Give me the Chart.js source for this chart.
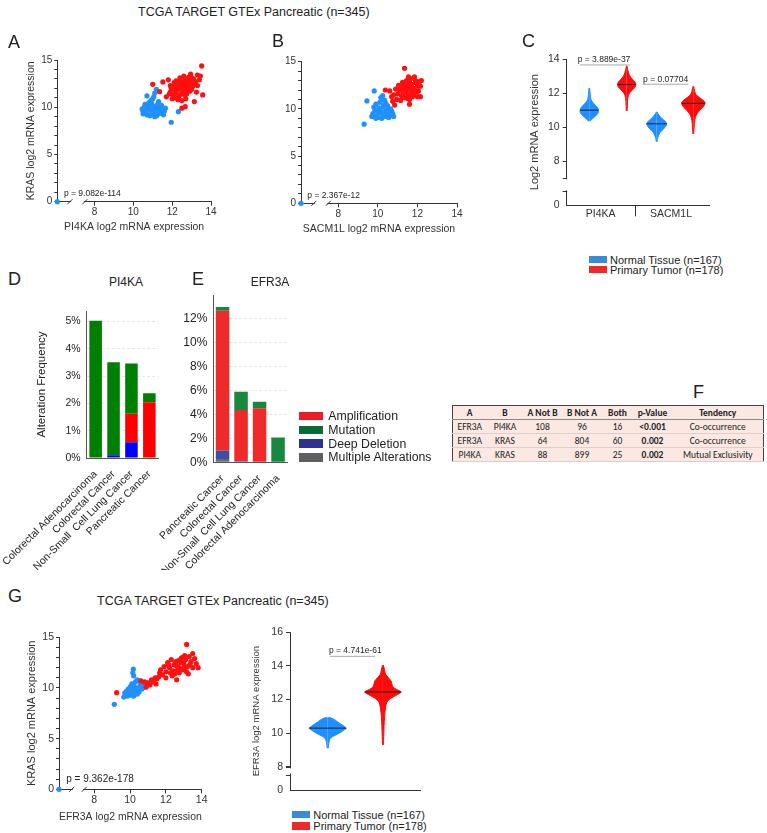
<!DOCTYPE html>
<html>
<head>
<meta charset="utf-8">
<script src="https://cdn.jsdelivr.net/npm/chart.js@4.4.1/dist/chart.umd.min.js"></script>
<style>
body { margin: 0; background: #fff; font-family: 'Liberation Sans', Arial, sans-serif; color: #222; }
#page { position: relative; width: 767px; height: 833px; overflow: hidden; }
canvas { position: absolute; }
.t { position: absolute; white-space: pre; line-height: 1; }
.sw { position: absolute; }
#tblF { position: absolute; left: 452px; top: 405px; width: 311px; border-collapse: collapse;
  font-family: Carlito, 'Liberation Sans Narrow', 'Liberation Sans', Arial, sans-serif; font-size: 9.5px;
  border: 1px solid #444; background: #fbe8e2; table-layout: fixed; }
#tblF th, #tblF td { height: 13px; padding: 0; text-align: center; border-bottom: 1px solid #e0cfc9; }
#tblF th { border-bottom: 1px solid #888; }
#tblF td.b { font-weight: bold; }
</style>
</head>
<body>
<div id="page"></div>
<script>
// ---- data ----
// A: PI4KA (x) vs KRAS (y)
const aTumor = [[12.0,11.8],[12.1,12.2],[12.2,11.5],[12.3,12.4],[12.4,11.9],[12.5,12.3],[12.6,12.0],[12.7,12.6],[12.8,12.2],[12.9,12.8],[13.0,12.5],[13.1,13.0],[13.2,12.7],[12.35,11.2],[12.55,11.6],[12.75,11.4],[12.2,12.8],[12.45,12.7],[12.65,13.0],[12.85,13.2],[11.9,12.3],[11.85,11.4],[12.0,10.9],[12.15,11.0],[12.3,10.8],[12.5,10.7],[12.7,10.9],[12.9,11.7],[13.0,11.9],[13.3,12.3],[13.25,11.6],[13.4,12.9],[13.3,13.4],[12.95,13.5],[12.6,13.3],[12.4,13.1],[12.1,12.6],[11.95,12.0],[12.25,12.1],[12.55,12.5],[12.8,11.8],[13.05,12.2],[12.45,11.4],[12.65,11.3],[12.2,11.7],[12.35,12.6],[12.9,12.0],[12.7,12.4],[11.9,11.6],[12.05,11.3],[12.6,11.8],[12.4,12.2],[12.75,12.9],[13.15,12.5],[13.52,14.37],[11.0,12.43],[11.52,12.68],[11.35,11.65],[13.57,11.3],[13.14,10.6],[12.67,10.06],[12.5,9.9],[11.7,11.1],[13.45,13.3],[11.8,12.9],[12.3,11.95],[12.5,12.1],[12.15,12.45],[12.85,12.55],[13.0,13.1]];
const aNormal = [[10.5,9.3],[10.6,9.6],[10.7,9.2],[10.8,9.8],[10.9,9.4],[11.0,9.9],[11.1,9.5],[11.2,9.7],[11.3,9.3],[11.4,9.8],[11.5,9.5],[11.6,9.6],[10.45,9.8],[10.55,10.0],[10.75,10.2],[10.85,9.1],[10.95,10.4],[11.05,9.2],[11.15,10.1],[11.25,10.3],[11.35,9.9],[11.45,10.2],[11.55,9.2],[10.65,9.4],[10.8,10.5],[10.9,10.7],[11.0,10.9],[11.1,9.0],[10.7,9.9],[11.2,9.1],[11.3,10.6],[11.4,9.4],[11.65,9.9],[10.6,10.3],[11.05,9.6],[10.95,9.7],[11.15,9.8],[10.85,10.0],[11.25,9.5],[10.5,9.6],[11.18,11.9],[11.1,11.5],[10.7,11.2],[12.32,9.53],[11.95,8.41],[11.05,11.1]];
// B: SACM1L (x) vs KRAS (y)
const bTumor = [[11.0,11.6],[11.1,12.0],[11.2,11.4],[11.3,12.2],[11.4,11.8],[11.5,12.4],[11.6,12.0],[11.7,12.6],[11.8,12.2],[11.9,12.8],[12.0,12.4],[12.1,12.9],[11.25,12.8],[11.45,13.0],[11.65,13.2],[11.85,13.4],[11.35,11.2],[11.55,11.5],[11.75,11.3],[11.95,11.8],[12.05,11.9],[10.9,12.1],[10.8,11.5],[10.95,11.0],[11.15,10.9],[11.05,12.5],[11.6,12.9],[11.4,12.6],[11.7,11.7],[11.85,12.0],[12.15,12.4],[11.5,11.1],[11.3,11.7],[11.6,11.0],[10.7,11.3],[10.75,10.8],[10.85,10.4],[11.2,12.3],[11.9,13.0],[11.8,11.5],[12.0,11.3],[11.35,14.3],[10.38,12.0],[12.2,13.0],[12.15,11.3],[11.6,10.5],[10.6,11.9],[11.55,13.4],[11.45,12.1],[11.65,12.4],[11.25,11.9]];
const bNormal = [[9.75,9.5],[9.85,9.9],[9.95,9.3],[10.05,10.1],[10.15,9.6],[10.25,10.2],[10.35,9.4],[10.45,9.9],[10.55,9.6],[10.65,10.0],[10.75,9.5],[9.8,10.2],[9.9,10.5],[10.0,9.1],[10.1,10.7],[10.2,11.0],[10.3,10.4],[10.4,9.2],[10.5,10.3],[10.6,9.3],[10.7,9.8],[10.8,9.2],[10.2,9.0],[10.1,9.8],[10.3,9.7],[10.0,9.7],[10.4,10.6],[10.25,11.4],[10.15,11.2],[9.7,9.2],[10.55,9.1],[9.9,9.0],[10.35,10.9],[9.82,11.9],[9.45,10.85],[9.31,8.38],[10.2,9.5],[10.45,10.4]];
// G: EFR3A (x) vs KRAS (y)
const gTumor = [[12.0,11.6],[12.2,12.0],[12.4,11.7],[12.6,12.2],[12.8,11.9],[13.0,12.4],[13.2,12.1],[13.4,12.6],[12.1,12.5],[12.3,12.8],[12.5,11.4],[12.7,12.7],[12.9,13.0],[13.1,12.8],[13.3,13.1],[11.8,11.3],[11.9,12.1],[12.0,11.0],[12.35,11.2],[12.55,12.6],[12.75,11.5],[12.95,11.8],[13.15,11.6],[13.35,12.3],[13.5,12.0],[13.6,12.9],[12.45,12.3],[12.65,11.8],[12.85,12.5],[13.05,13.2],[12.25,11.5],[11.7,11.8],[11.6,11.1],[11.5,10.9],[11.4,11.0],[11.3,10.6],[11.2,10.8],[11.1,10.3],[11.0,10.5],[10.9,10.1],[10.8,10.6],[11.45,10.4],[11.65,11.5],[12.85,12.9],[13.25,11.4],[13.16,14.3],[13.5,13.4],[9.25,9.54],[13.8,12.0],[13.7,12.4],[12.6,10.8],[10.6,10.7],[12.15,12.3],[12.7,12.05],[13.0,11.95]];
const gNormal = [[9.65,9.1],[9.75,9.4],[9.85,9.2],[9.95,9.6],[10.05,9.3],[10.15,9.8],[10.25,9.5],[10.35,10.0],[10.45,9.7],[10.55,10.2],[10.65,9.9],[10.75,10.4],[10.85,10.1],[10.95,10.5],[9.8,9.7],[9.9,9.9],[10.0,10.1],[10.1,10.4],[10.2,10.2],[10.3,10.6],[10.4,9.4],[10.5,9.6],[10.6,10.5],[10.7,10.0],[9.7,9.5],[10.2,9.2],[10.4,10.8],[10.0,9.4],[10.18,11.85],[10.2,11.2],[10.15,11.5],[9.12,8.39],[10.3,9.9],[10.55,10.7]];
const zeroSample = [[0, 0]];
const scatterXTicks = [8, 10, 12, 14];
const scatterYTicks = [0,1,2,3,4,5,6,7,8,9,10,11,12,13,14,15];

// C: violin density profiles (level, relative width) and medians
const cPi4kaNormalY = [10.35,10.45,10.6,10.75,10.9,11.0,11.1,11.25,11.4,11.55,11.7,11.9,12.1,12.3];
const cPi4kaNormalW = [0.05,0.25,0.55,0.85,1.0,1.0,0.95,0.75,0.45,0.25,0.15,0.1,0.07,0.03];
const cPi4kaTumorY = [10.95,11.3,11.7,12.0,12.2,12.35,12.5,12.65,12.8,13.0,13.2,13.4,13.6];
const cPi4kaTumorW = [0.04,0.07,0.12,0.3,0.65,0.9,1.0,0.9,0.65,0.35,0.2,0.1,0.03];
const cSacNormalY = [9.15,9.4,9.7,9.9,10.05,10.2,10.35,10.5,10.65,10.8,10.9];
const cSacNormalW = [0.04,0.12,0.35,0.7,0.9,1.0,0.85,0.55,0.3,0.12,0.03];
const cSacTumorY = [9.6,10.0,10.4,10.7,10.95,11.15,11.3,11.45,11.6,11.75,11.9,12.1,12.4];
const cSacTumorW = [0.03,0.07,0.12,0.25,0.5,0.8,0.95,1.0,0.8,0.5,0.25,0.12,0.03];
const cMedians = [11.0, 12.5, 10.2, 11.4];
const cGenes = ['PI4KA', 'SACM1L'];
const cPValues = ['p = 3.889e-37', 'p = 0.07704'];

// G violin
const gNormalY = [9.1,9.4,9.7,9.9,10.05,10.2,10.3,10.4,10.55,10.7,10.85,10.95];
const gNormalW = [0.03,0.06,0.15,0.45,0.7,0.9,1.0,0.9,0.7,0.5,0.3,0.05];
const gTumorY = [9.3,9.8,10.4,11.0,11.5,11.9,12.15,12.3,12.45,12.6,12.75,12.9,13.1,13.3,13.5,13.7,13.9,14.05];
const gTumorW = [0.02,0.04,0.06,0.09,0.14,0.25,0.55,0.8,1.0,0.75,0.55,0.5,0.45,0.3,0.15,0.1,0.06,0.02];
const gMedians = [10.3, 12.45];

// D / E alteration frequency (%)
const dCancers = ['Colorectal Adenocarcinoma', 'Colorectal Cancer', 'Non-Small  Cell Lung Cancer', 'Pancreatic Cancer'];
const dDeepDeletion = [0, 0.1, 0.58, 0];
const dAmplification = [0, 0, 1.04, 2.04];
const dMutation = [5.02, 3.4, 1.84, 0.33];
const eCancers = ['Pancreatic Cancer', 'Colorectal Cancer', 'Non-Small  Cell Lung Cancer', 'Colorectal Adenocarcinoma'];
const eMultiple = [0.28, 0, 0, 0];
const eDeepDeletion = [0.69, 0.08, 0.04, 0];
const eAmplification = [11.72, 4.3, 4.48, 0];
const eMutation = [0.3, 1.53, 0.55, 2.08];
const alterationLabels = ['Amplification', 'Mutation', 'Deep Deletion', 'Multiple Alterations'];

// F table
const fHeader = ['A', 'B', 'A Not B', 'B Not A', 'Both', 'p-Value', 'Tendency'];
const fGeneA = ['EFR3A', 'EFR3A', 'PI4KA'];
const fGeneB = ['PI4KA', 'KRAS', 'KRAS'];
const fANotB = [108, 64, 88];
const fBNotA = [96, 804, 899];
const fBoth = [16, 60, 25];
const fPValue = ['<0.001', '0.002', '0.002'];
const fTendency = ['Co-occurrence', 'Co-occurrence', 'Mutual Exclusivity'];

// ---- look ----
const RED = '#ff1010', BLUE = '#2090ff';
const VRED = '#ff0a0a', VBLUE = '#1f8fff';
const LEG_BLUE = '#3b8ad8', LEG_RED = '#f0282a';
const AX = '#333';

Chart.defaults.font.family = "'Liberation Sans', Arial, sans-serif";
Chart.defaults.color = '#222';
Chart.defaults.animation = false;
Chart.defaults.responsive = false;
Chart.defaults.plugins.legend.display = false;
Chart.defaults.plugins.tooltip.enabled = false;

// broken axis marks
Chart.register({
  id: 'axisBreak',
  afterDraw(chart, args, o) {
    if (!o || !o.axis) return;
    const s = chart.scales[o.axis], ctx = chart.ctx;
    const a = s.getPixelForValue(o.from), b = s.getPixelForValue(o.to);
    ctx.save();
    ctx.fillStyle = '#fff';
    ctx.strokeStyle = AX;
    ctx.lineWidth = 1;
    ctx.beginPath();
    if (o.axis === 'x') {
      const y = s.top;
      ctx.fillRect(a + 1, y - 2, b - a - 2, 4);
      [a, b].forEach(p => { ctx.moveTo(p - 2.5, y + 2.5); ctx.lineTo(p + 2.5, y - 2.5); });
    } else {
      const x = s.right;
      ctx.fillRect(x - 2, b + 1, 4, a - b - 2);
      [a, b].forEach(p => { ctx.moveTo(x - 4, Math.round(p) + 0.5); ctx.lineTo(x + 0.5, Math.round(p) + 0.5); });
    }
    ctx.stroke();
    ctx.restore();
  }
});

const page = document.getElementById('page');
function canvasAt(x, y, w, h) {
  const c = document.createElement('canvas');
  c.width = w; c.height = h;
  c.style.left = x + 'px'; c.style.top = y + 'px';
  page.appendChild(c);
  return c;
}
function put(text, x, y, size, center, bold) {
  const d = document.createElement('div');
  d.className = 't';
  d.textContent = text;
  d.style.left = x + 'px'; d.style.top = y + 'px'; d.style.fontSize = size + 'px';
  d.style.transform = center ? 'translate(-50%,-50%)' : 'translateY(-50%)';
  if (bold) d.style.fontWeight = 'bold';
  page.appendChild(d);
}
function swatch(x, y, w, h, color) {
  const d = document.createElement('div');
  d.className = 'sw';
  Object.assign(d.style, {left: x + 'px', top: y + 'px', width: w + 'px', height: h + 'px', background: color});
  page.appendChild(d);
}
function fit(w, h) {
  return s => {
    if (w != null) s.width = w;
    if (h != null) s.height = h;
    s.paddingLeft = s.paddingRight = s.paddingTop = s.paddingBottom = 0;
  };
}
function at(vals) { return s => { s.ticks = vals.map(v => ({value: v})); }; }
const pts = arr => arr.map(p => ({x: p[0], y: p[1]}));

// ---- scatter panels ----
function scatter(c, tumor, normal, ax) {
  new Chart(c, {
    type: 'scatter',
    data: {datasets: [
      {data: pts(tumor), backgroundColor: RED},
      {data: pts(normal), backgroundColor: BLUE},
      {data: zeroSample.map(p => ({x: Math.max(p[0], ax.xMin), y: p[1]})), backgroundColor: BLUE, clip: false}
    ]},
    options: {
      layout: {padding: ax.pad},
      elements: {point: {radius: 2.6, hoverRadius: 2.6, borderWidth: 0}},
      plugins: {axisBreak: {axis: 'x', from: ax.brk[0], to: ax.brk[1]}},
      scales: {
        x: {type: 'linear', min: ax.xMin, max: 14, afterBuildTicks: at(scatterXTicks), afterFit: fit(null, ax.xH),
          grid: {drawOnChartArea: false, tickLength: 4, tickColor: AX}, border: {color: AX},
          ticks: {padding: 1, color: AX, autoSkip: false, font: {size: ax.fs}},
          title: {display: true, text: ax.xTitle, color: AX, font: {size: ax.ts}, padding: {top: 4, bottom: 4}}},
        y: {type: 'linear', min: 0, max: 15, afterBuildTicks: at(scatterYTicks), afterFit: fit(ax.yW, null),
          grid: {drawOnChartArea: false, tickLength: 3, tickColor: AX}, border: {color: AX},
          ticks: {padding: 2, color: AX, autoSkip: false, font: {size: ax.fs}, callback: v => v % 5 === 0 ? v : ''},
          title: {display: !!ax.yTitle, text: ax.yTitle, color: AX, font: {size: ax.ts}, padding: {top: 4, bottom: 4}}}
      }
    }
  });
}
scatter(canvasAt(0, 40, 240, 210), aTumor, aNormal, {
  xMin: 6.08, brk: [6.73, 7.5], pad: {left: 21, right: 29, top: 20, bottom: 12.3}, yW: 36.3, xH: 36,
  fs: 10, ts: 10.5, xTitle: 'PI4KA log2 mRNA expression', yTitle: 'KRAS log2 mRNA expression'});
scatter(canvasAt(250, 40, 240, 210), bTumor, bNormal, {
  xMin: 6.12, brk: [6.77, 7.5], pad: {left: 0, right: 33, top: 21.7, bottom: 10.7}, yW: 51, xH: 36,
  fs: 10, ts: 10.5, xTitle: 'SACM1L log2 mRNA expression', yTitle: ''});
scatter(canvasAt(0, 620, 240, 213), gTumor, gNormal, {
  xMin: 6.03, brk: [6.74, 7.44], pad: {left: 21, right: 38.3, top: 17.3, bottom: 5.7}, yW: 38, xH: 38,
  fs: 10.5, ts: 11, xTitle: 'EFR3A log2 mRNA expression', yTitle: 'KRAS log2 mRNA expression'});

// ---- violin panels ----
function addViolin(sets, ys, ws, med, c, hw, color) {
  const side = s => ({
    data: ys.map((y, i) => ({x: c + s * ws[i] * hw, y})),
    borderColor: color, backgroundColor: color, borderWidth: 1,
    pointRadius: 0, tension: 0.35, fill: {value: c}, order: 1
  });
  sets.push(side(1), side(-1));
  sets.push({data: [{x: c - hw, y: med}, {x: c + hw, y: med}], borderColor: '#222', borderWidth: 1,
    pointRadius: 0, fill: false, order: 0});
}
function pLine(sets, x0, x1, y) {
  sets.push({data: [{x: x0, y}, {x: x1, y}], borderColor: '#aaa', borderWidth: 1, pointRadius: 0, fill: false, order: 0});
}

const cZero = 5.42, cSep = 1.935, cLabelPos = [0.954, 2.926];
const cSets = [];
addViolin(cSets, cPi4kaNormalY, cPi4kaNormalW, cMedians[0], 0.634, 0.258, VBLUE);
addViolin(cSets, cPi4kaTumorY, cPi4kaTumorW, cMedians[1], 1.683, 0.258, VRED);
addViolin(cSets, cSacNormalY, cSacNormalW, cMedians[2], 2.524, 0.28, VBLUE);
addViolin(cSets, cSacTumorY, cSacTumorW, cMedians[3], 3.551, 0.328, VRED);
pLine(cSets, 0.373, 1.776, 13.65);
pLine(cSets, 2.13, 3.41, 12.52);
new Chart(canvasAt(510, 40, 250, 200), {
  type: 'line',
  data: {datasets: cSets},
  options: {
    indexAxis: 'y',
    layout: {padding: {left: 14, right: 50.7, top: 19, bottom: 8.7}},
    plugins: {axisBreak: {axis: 'y', from: 6.24, to: 7.0}},
    scales: {
      x: {type: 'linear', min: 0, max: 4, afterBuildTicks: at([cLabelPos[0], cSep, cLabelPos[1]]), afterFit: fit(null, 26),
        grid: {drawOnChartArea: false, tickLength: 11, tickColor: ctx => ctx.tick && ctx.tick.value === cSep ? AX : 'rgba(0,0,0,0)'},
        border: {color: AX},
        ticks: {padding: -8, color: AX, font: {size: 10.5}, callback: v => v === cSep ? '' : cGenes[cLabelPos.indexOf(v)]}},
      y: {type: 'linear', min: cZero, max: 14, afterBuildTicks: at([cZero, 8, 10, 12, 14]), afterFit: fit(42.7, null),
        grid: {drawOnChartArea: false, tickLength: 4, tickColor: ctx => ctx.tick && ctx.tick.value === cZero ? 'rgba(0,0,0,0)' : AX},
        border: {color: AX},
        ticks: {padding: 3, color: AX, font: {size: 10.5}, callback: v => v === cZero ? '0' : v},
        title: {display: true, text: 'Log2 mRNA expression', color: AX, font: {size: 11}, padding: {top: 4, bottom: 4}}}
    }
  }
});

const gZero = 6.62;
const gSets = [];
addViolin(gSets, gNormalY, gNormalW, gMedians[0], 1.16, 0.57, VBLUE);
addViolin(gSets, gTumorY, gTumorW, gMedians[1], 2.86, 0.56, VRED);
pLine(gSets, 1.23, 2.615, 14.57);
new Chart(canvasAt(240, 620, 200, 180), {
  type: 'line',
  data: {datasets: gSets},
  options: {
    indexAxis: 'y',
    layout: {padding: {left: 6.6, right: 20, top: 12.3, bottom: 0}},
    plugins: {axisBreak: {axis: 'y', from: 7.54, to: 7.97}},
    scales: {
      x: {type: 'linear', min: 0, max: 4, afterFit: fit(null, 10), grid: {display: false},
        ticks: {display: false}, border: {color: AX}},
      y: {type: 'linear', min: gZero, max: 16, afterBuildTicks: at([gZero, 8, 10, 12, 14, 16]), afterFit: fit(43.4, null),
        grid: {drawOnChartArea: false, tickLength: 4, tickColor: ctx => ctx.tick && ctx.tick.value === gZero ? 'rgba(0,0,0,0)' : AX},
        border: {color: AX},
        ticks: {padding: 3, color: AX, font: {size: 10.5}, callback: v => v === gZero ? '0' : v},
        title: {display: true, text: 'EFR3A log2 mRNA expression', color: AX, font: {size: 9.5}, padding: {top: 4, bottom: 4}}}
    }
  }
});

// ---- alteration bars ----
function barChart(c, labels, sets, o) {
  new Chart(c, {
    type: 'bar',
    data: {labels, datasets: sets.map(s => ({label: s[0], data: s[1], backgroundColor: s[2], barPercentage: o.bp, categoryPercentage: 1}))},
    options: {
      layout: {padding: o.pad},
      scales: {
        x: {stacked: true, afterFit: fit(null, o.xH), grid: {display: false}, border: {color: '#555'},
          ticks: {autoSkip: false, minRotation: 45, maxRotation: 45, padding: 2, color: '#222', font: {size: 10.5}}},
        y: {stacked: true, min: 0, max: o.max, afterBuildTicks: at(o.ticks), afterFit: fit(o.yW, null),
          grid: {color: '#e8e8e8', drawTicks: false}, border: {color: '#555', dash: [3, 2]},
          ticks: {padding: 6, color: '#222', font: {size: o.fs}, callback: v => v + '%'},
          title: {display: !!o.yTitle, text: o.yTitle, color: '#222', font: {size: 11.5}, padding: {top: 4, bottom: 4}}}
      }
    }
  });
}
barChart(canvasAt(0, 290, 180, 280), dCancers, [
  ['Deep Deletion', dDeepDeletion, '#0000ff'],
  ['Amplification', dAmplification, '#ff0000'],
  ['Mutation', dMutation, '#008000']
], {pad: {left: 31, right: 21.7, top: 21, bottom: 0}, yW: 55.7, xH: 112, bp: 0.7, max: 5.38, ticks: [0, 1, 2, 3, 4, 5], fs: 10.5, yTitle: 'Alteration Frequency'});
barChart(canvasAt(150, 290, 150, 280), eCancers, [
  ['Multiple Alterations', eMultiple, '#6a6a6a'],
  ['Deep Deletion', eDeepDeletion, '#3a4fa8'],
  ['Amplification', eAmplification, '#ee2a2a'],
  ['Mutation', eMutation, '#17893e']
], {pad: {left: 0, right: 12.7, top: 5, bottom: 0}, yW: 63.3, xH: 107.7, bp: 0.73, max: 14, ticks: [0, 2, 4, 6, 8, 10, 12], fs: 12, yTitle: ''});

// ---- text, legends, table ----
put('TCGA TARGET GTEx Pancreatic (n=345)', 138, 12, 12.5);
put('TCGA TARGET GTEx Pancreatic (n=345)', 97, 601, 12.5);
[['A', 8, 42], ['B', 272, 41], ['C', 522, 41], ['D', 8, 279], ['E', 192, 279], ['F', 693, 392], ['G', 8, 596]]
  .forEach(l => put(l[0], l[1], l[2], 18));
put('PI4KA', 126, 282, 12, true);
put('EFR3A', 270, 282, 12, true);
put('p = 9.082e-114', 92.3, 192.7, 8.5, true);
put('p = 2.367e-12', 333.7, 194.7, 8.5, true);
put(cPValues[0], 604, 59, 8.5, true);
put(cPValues[1], 665.7, 79, 8.5, true);
put('p = 9.362e-178', 100, 779.3, 10, true);
put('p = 4.741e-61', 355.3, 650, 8.5, true);

swatch(589.3, 256, 17.4, 7.3, LEG_BLUE); put('Normal Tissue (n=167)', 610, 259.7, 11);
swatch(589.3, 266, 17.4, 7.3, LEG_RED); put('Primary Tumor (n=178)', 610, 269.7, 11);
swatch(291.7, 811, 18.3, 7.3, LEG_BLUE); put('Normal Tissue (n=167)', 313.3, 814.7, 11);
swatch(291.7, 822.3, 18.3, 7.3, LEG_RED); put('Primary Tumor (n=178)', 313.3, 826, 11);

const eLegColors = ['#ed1c24', '#0b6b36', '#2e3192', '#5f5f5f'];
alterationLabels.forEach((t, i) => {
  const y = 416 + i * 13.8;
  swatch(299.3, y - 4.2, 23.4, 8.4, eLegColors[i]);
  put(t, 328.3, y, 12.3);
});

const tbl = document.createElement('table');
tbl.id = 'tblF';
const colW = [34, 37, 38, 41, 30, 40, 91];
const cg = document.createElement('colgroup');
colW.forEach(w => { const col = document.createElement('col'); col.style.width = w + 'px'; cg.appendChild(col); });
tbl.appendChild(cg);
const hr = tbl.insertRow();
fHeader.forEach(h => { const th = document.createElement('th'); th.textContent = h; hr.appendChild(th); });
fGeneA.forEach((a, i) => {
  const r = tbl.insertRow();
  [a, fGeneB[i], fANotB[i], fBNotA[i], fBoth[i], fPValue[i], fTendency[i]].forEach((v, j) => {
    const td = r.insertCell();
    td.textContent = v;
    if (j === 5) td.className = 'b';
  });
});
page.appendChild(tbl);
</script>
</body>
</html>
